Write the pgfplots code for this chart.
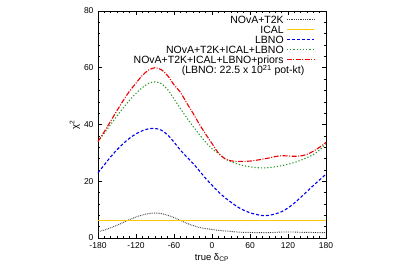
\documentclass[border=0pt]{standalone}
\usepackage{fontspec}
\setmainfont{Liberation Sans}
\usepackage{pgfplots}
\pgfplotsset{compat=1.18}
\definecolor{cblack}{RGB}{60,60,60}
\definecolor{cgold}{RGB}{255,200,0}
\definecolor{cblue}{RGB}{0,0,240}
\definecolor{cgreen}{RGB}{40,150,40}
\definecolor{cred}{RGB}{240,0,0}
\tikzset{
  sNT/.style={draw=cblack, line width=0.9pt, dash pattern=on 0.8pt off 1pt},
  sIC/.style={draw=cgold, line width=1.1pt},
  sLB/.style={draw=cblue, line width=1.1pt, dash pattern=on 3pt off 2pt},
  sAL/.style={draw=cgreen, line width=1.1pt, dash pattern=on 1.2pt off 2pt},
  sPR/.style={draw=cred, line width=1.1pt, dash pattern=on 5pt off 1.5pt on 1pt off 1.5pt},
  legtxt/.style={anchor=mid east, yshift=-1pt, inner sep=0pt, font=\fontsize{10.5}{11}\selectfont},
}
\begin{document}
\begin{tikzpicture}
\begin{axis}[
  scale only axis,
  width=228pt, height=227pt,
  xmin=-180, xmax=180, ymin=0, ymax=80,
  xtick={-180,-120,...,180},
  ytick={0,20,...,80},
  minor x tick num=5,
  minor y tick num=4,
  tick align=inside,
  major tick length=4pt,
  minor tick length=2pt,
  axis line style={line width=0.7pt},
  every tick/.style={black, line width=0.5pt},
  /pgf/number format/assume math mode=true,
  tick label style={font=\fontsize{8.5}{10}\selectfont},
  xticklabel style={yshift=-1pt},
  yticklabel style={xshift=-1pt},
  xlabel={true δ\textsubscript{CP}},
  ylabel={χ\textsuperscript{2}},
  label style={font=\fontsize{9.5}{11}\selectfont},
  xlabel style={yshift=2pt},
  ylabel style={yshift=-3pt},
  clip=false,
]
\addplot[sNT, smooth] coordinates {
(-180,2.2)(-170,2.8)(-160,3.6)(-150,4.5)(-140,5.5)(-130,6.5)(-120,7.4)(-110,8.1)(-100,8.6)(-90,8.8)
(-80,8.6)(-70,8.0)(-60,7.2)(-50,6.2)(-40,5.2)(-30,4.4)(-20,3.7)(-10,3.3)(0,3.0)(10,2.7)(20,2.5)
(30,2.3)(40,2.1)(50,2.0)(60,1.95)(70,1.9)(80,1.9)(90,1.9)(100,2.0)(110,2.1)(120,2.1)(130,2.1)
(140,2.0)(150,2.0)(160,1.95)(170,1.9)(180,1.9)};
\addplot[sIC] coordinates {(-180,6.2)(180,6.2)};
\addplot[sLB, smooth] coordinates {
(-180,23.0)(-170,25.8)(-160,28.6)(-150,31.1)(-140,33.3)(-130,35.2)(-120,36.7)(-110,37.8)(-100,38.5)
(-90,38.6)(-80,38.0)(-70,36.3)(-60,33.8)(-50,31.0)(-40,28.6)(-30,26.3)(-20,23.7)(-10,21.0)(0,18.6)
(10,16.3)(20,14.3)(30,12.6)(40,11.0)(50,9.8)(60,8.9)(70,8.3)(80,7.9)(90,8.0)(100,8.5)(110,9.3)
(120,10.6)(130,12.3)(140,14.3)(150,16.4)(160,18.5)(170,20.5)(180,22.5)};
\addplot[sAL, smooth] coordinates {
(-180,34.0)(-170,37.0)(-160,40.0)(-150,43.0)(-140,45.9)(-130,48.6)(-120,51.0)(-110,53.0)(-100,54.5)
(-90,55.0)(-80,54.4)(-70,52.3)(-60,49.0)(-50,45.7)(-40,42.4)(-30,39.4)(-20,36.5)(-10,33.8)(0,31.5)
(10,29.8)(20,28.0)(30,26.9)(40,26.1)(50,25.5)(60,25.1)(70,24.8)(80,24.7)(90,24.8)(100,25.1)(110,25.5)
(120,26.0)(130,26.6)(140,27.4)(150,28.3)(160,29.4)(170,31.0)(180,33.3)};
\addplot[sPR, smooth] coordinates {
(-180,34.0)(-170,37.5)(-160,41.2)(-150,44.9)(-140,48.5)(-130,51.8)(-120,54.6)(-110,57.3)(-100,59.2)
(-90,60.0)(-80,59.3)(-70,57.2)(-60,54.0)(-50,51.4)(-40,47.6)(-30,44.0)(-20,40.1)(-10,36.6)(0,33.3)
(10,30.0)(20,28.0)(30,27.2)(40,27.0)(50,27.0)(60,27.1)(70,27.4)(80,27.8)(90,28.2)(100,28.7)(110,29.0)
(120,28.9)(130,28.8)(140,28.9)(150,29.5)(160,30.6)(170,32.0)(180,33.7)};
% legend samples
\addplot[sNT, line width=1.3pt, forget plot] coordinates {(118.4,77.0)(161.1,77.0)};
\addplot[sIC, line width=1.3pt, forget plot] coordinates {(118.4,73.48)(161.1,73.48)};
\addplot[sLB, line width=1.3pt, forget plot] coordinates {(118.4,69.96)(161.1,69.96)};
\addplot[sAL, line width=1.3pt, forget plot] coordinates {(118.4,66.43)(161.1,66.43)};
\addplot[sPR, line width=1.3pt, forget plot] coordinates {(118.4,62.91)(161.1,62.91)};
\node[legtxt] at (axis cs:113.5,77.0) {NOvA+T2K};
\node[legtxt] at (axis cs:113.5,73.48) {ICAL};
\node[legtxt] at (axis cs:113.5,69.96) {LBNO};
\node[legtxt] at (axis cs:113.5,66.43) {NOvA+T2K+ICAL+LBNO};
\node[legtxt] at (axis cs:113.5,62.91) {NOvA+T2K+ICAL+LBNO+priors};
\node[font=\fontsize{10.5}{11}\selectfont, anchor=base] at (axis cs:49,57.8) {(LBNO: 22.5 x 10\textsuperscript{21} pot-kt)};
\end{axis}
\pgfresetboundingbox
\path[use as bounding box] ([shift={(-98pt,-41pt)}]current axis.south west) rectangle ([shift={(74pt,11pt)}]current axis.north east);
\end{tikzpicture}
\end{document}
